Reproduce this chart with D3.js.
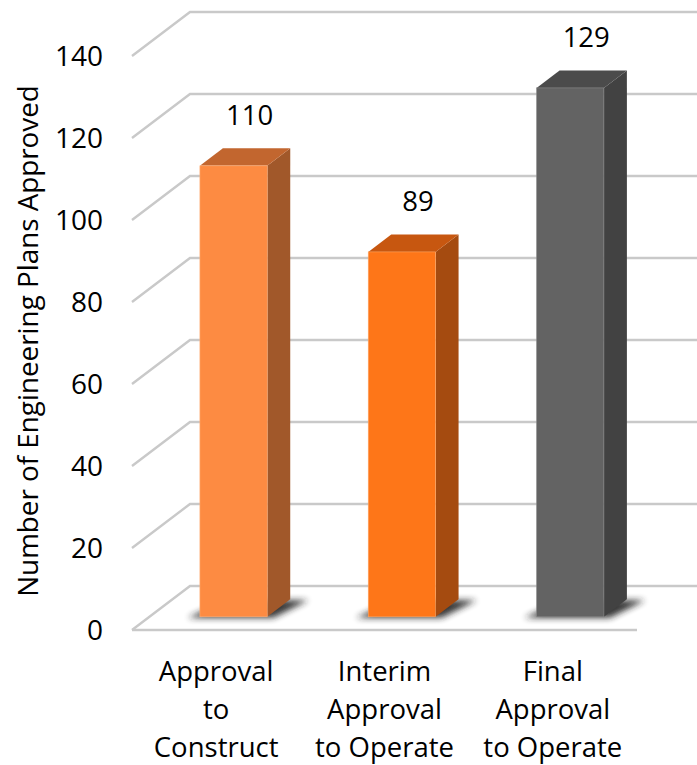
<!DOCTYPE html>
<html>
<head>
<meta charset="utf-8">
<script src="https://cdn.jsdelivr.net/npm/d3@7"></script>
<style>
  html, body { margin: 0; padding: 0; background: #ffffff; }
  svg { display: block; }
  text { font-family: "Open Sans", "DejaVu Sans", sans-serif; fill: #000; }
</style>
</head>
<body>
<svg id="chart" width="697" height="765"></svg>
<script>
// Engineering plans approved, by approval type
const categories = [
  ["Approval", "to", "Construct"],
  ["Interim", "Approval", "to Operate"],
  ["Final", "Approval", "to Operate"]
];
const values = [110, 89, 129];
const yTicks = [0, 20, 40, 60, 80, 100, 120, 140];
const yTitle = "Number of Engineering Plans Approved";

// face colours per bar: front, top, side
const palette = [
  { front: "#FD8B42", top: "#C2662F", side: "#A1582A", edge: "#FFB27F" },
  { front: "#FE7618", top: "#C75710", side: "#A54B10", edge: "#FFA866" },
  { front: "#636363", top: "#4B4B4B", side: "#424242", edge: "#8A8A8A" }
];

const W = 697, H = 765;
const svg = d3.select("#chart");

// 3D frame: front floor edge, depth vector toward the back wall
const frontLeft = 132, frontRight = 637;
const floorFrontY = 630;
const depth = { dx: 58, dy: -44 };
const barNear = 0.3, barFar = 0.3 + 23 / 58;

const x = d3.scaleBand()
  .domain(d3.range(values.length))
  .range([frontLeft, frontRight])
  .paddingInner(0.6)
  .paddingOuter(0.3);

const h = d3.scaleLinear().domain([0, 140]).range([0, 574]);

// project a point: front-plane x, value v, depth fraction t
const px = (fx, t) => fx + depth.dx * t;
const py = (v, t) => floorFrontY - h(v) + depth.dy * t;

// drop shadow filter
const defs = svg.append("defs");
defs.append("filter").attr("id", "shadowBlur")
  .attr("x", "-50%").attr("y", "-50%").attr("width", "200%").attr("height", "200%")
  .append("feGaussianBlur").attr("stdDeviation", 3);

// gridlines: diagonal on the side wall, then across the back wall
const grid = svg.append("g").attr("fill", "none").attr("stroke", "#C9C9C9").attr("stroke-width", 2.4);
yTicks.forEach(v => {
  grid.append("path").attr("d", d3.line()([
    [px(frontLeft, 0), py(v, 0)],
    [px(frontLeft, 1), py(v, 1)],
    [W + 2, py(v, 1)]
  ]));
});
// front edge of the floor
grid.append("line")
  .attr("x1", frontLeft).attr("x2", frontRight)
  .attr("y1", py(0, 0)).attr("y2", py(0, 0));

// tick labels
svg.append("g").selectAll("text").data(yTicks).join("text")
  .attr("x", 103)
  .attr("y", d => py(d, 0))
  .attr("dy", "0.35em")
  .attr("text-anchor", "end")
  .attr("font-size", 28)
  .text(d => d);

// axis title
svg.append("text")
  .attr("transform", `translate(38,${341}) rotate(-90)`)
  .attr("text-anchor", "middle")
  .attr("font-size", 27.8)
  .text(yTitle);

// bars
const bars = svg.append("g").selectAll("g").data(values).join("g");

bars.each(function(v, i) {
  const g = d3.select(this);
  const c = palette[i];
  const x0 = x(i), x1 = x(i) + x.bandwidth();

  // floor shadow
  g.append("path")
    .attr("d", d3.line()([
      [px(x0 - 12, barNear), py(0, barNear) + 1],
      [px(x1 + 6, barNear), py(0, barNear) + 1],
      [px(x1 + 18, barFar), py(0, barFar) + 1],
      [px(x0 + 4, barFar), py(0, barFar) + 1]
    ]) + "Z")
    .attr("fill", "#222")
    .attr("opacity", 0.9)
    .attr("filter", "url(#shadowBlur)");

  // side face
  g.append("path")
    .attr("d", d3.line()([
      [px(x1, barNear), py(0, barNear)],
      [px(x1, barFar), py(0, barFar)],
      [px(x1, barFar), py(v, barFar)],
      [px(x1, barNear), py(v, barNear)]
    ]) + "Z")
    .attr("fill", c.side);

  // top face
  g.append("path")
    .attr("d", d3.line()([
      [px(x0, barNear), py(v, barNear)],
      [px(x0, barFar), py(v, barFar)],
      [px(x1, barFar), py(v, barFar)],
      [px(x1, barNear), py(v, barNear)]
    ]) + "Z")
    .attr("fill", c.top);

  // front face
  g.append("rect")
    .attr("x", px(x0, barNear))
    .attr("y", py(v, barNear))
    .attr("width", x.bandwidth())
    .attr("height", h(v))
    .attr("fill", c.front)
    .attr("stroke", c.edge)
    .attr("stroke-width", 0.6);

  // value label
  g.append("text")
    .attr("x", px(x0 + x.bandwidth() / 2, barNear) + 16)
    .attr("y", py(v, barNear) - 41)
    .attr("text-anchor", "middle")
    .attr("font-size", 27.5)
    .text(v);
});

// category labels, centred below each bar on the front plane
const lineYs = [681, 719, 757];
svg.append("g").selectAll("g").data(categories).join("g")
  .each(function(lines, i) {
    d3.select(this).selectAll("text").data(lines).join("text")
      .attr("x", x(i) + x.bandwidth() / 2)
      .attr("y", (d, k) => lineYs[k])
      .attr("text-anchor", "middle")
      .attr("font-size", 27.5)
      .text(d => d);
  });
</script>
</body>
</html>
